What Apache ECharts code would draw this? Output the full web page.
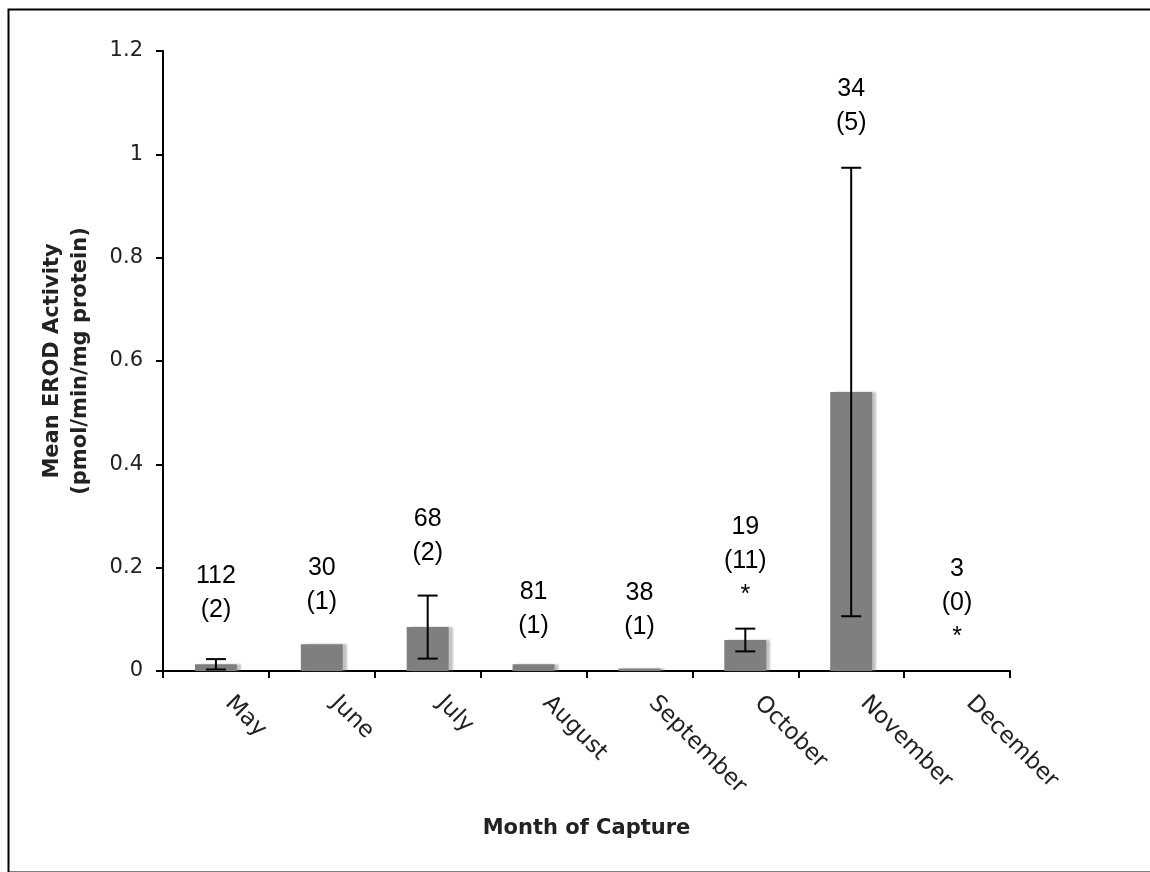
<!DOCTYPE html>
<html><head><meta charset="utf-8">
<script src="https://cdn.jsdelivr.net/npm/echarts@6/dist/echarts.min.js"></script>
<style>html,body{margin:0;padding:0;background:#fff}#c{width:1150px;height:872px}</style>
</head><body><div id="c"></div>
<script>
const months = ['May', 'June', 'July', 'August', 'September', 'October', 'November', 'December'];
const meanErod = [0.013, 0.052, 0.085, 0.013, 0.005, 0.060, 0.540, 0];
const stdErr = [0.010, null, 0.061, null, null, 0.022, 0.434, null];
const sampleSize = ['112', '30', '68', '81', '38', '19', '34', '3'];
const detected = ['(2)', '(1)', '(2)', '(1)', '(1)', '(11)', '(5)', '(0)'];
const significant = [false, false, false, false, false, true, false, true];
const annotationY = [0.151, 0.166, 0.261, 0.119, 0.118, 0.213, 1.094, 0.132];
const yAxisTitle = 'Mean EROD Activity\n(pmol/min/mg protein)';
const xAxisTitle = 'Month of Capture';

const errData = [];
months.forEach((m, i) => { if (stdErr[i] != null) errData.push([i, meanErod[i], stdErr[i]]); });
const annData = months.map((m, i) => [i, annotationY[i]]);

const chart = echarts.init(document.getElementById('c'), null, { renderer: 'canvas' });
chart.setOption({
  backgroundColor: '#fff',
  animation: false,
  graphic: [{
    type: 'rect', left: 6, top: 7, z: 100,
    shape: { x: 0, y: 0, width: 1150, height: 863 },
    style: { fill: 'none', stroke: '#000', lineWidth: 2 }
  }],
  grid: { left: 163, right: 140, top: 51, bottom: 201 },
  xAxis: {
    type: 'category', data: months, boundaryGap: true,
    axisLine: { show: true, lineStyle: { color: '#000', width: 2 } },
    axisTick: { show: true, length: 7, lineStyle: { color: '#000', width: 2 } },
    axisLabel: { interval: 0, rotate: -45, margin: 16, padding: [0, 0, 0, 18],
      fontFamily: 'DejaVu Sans', fontSize: 23, color: '#222' },
    splitLine: { show: false },
    name: xAxisTitle, nameLocation: 'middle', nameGap: 147,
    nameTextStyle: { fontFamily: 'DejaVu Sans', fontWeight: 'bold', fontSize: 21, color: '#222' }
  },
  yAxis: {
    type: 'value', min: 0, max: 1.2, interval: 0.2,
    axisLine: { show: true, lineStyle: { color: '#000', width: 2 } },
    axisTick: { show: true, length: 7, lineStyle: { color: '#000', width: 2 } },
    axisLabel: { margin: 20, fontFamily: 'DejaVu Sans', fontSize: 21, color: '#222' },
    splitLine: { show: false },
    name: yAxisTitle, nameLocation: 'middle', nameGap: 68, nameRotate: 90,
    nameTextStyle: { fontFamily: 'DejaVu Sans', fontWeight: 'bold', fontSize: 21, color: '#222', lineHeight: 28 }
  },
  series: [
    {
      type: 'bar', data: meanErod, barWidth: 42,
      itemStyle: { color: '#7f7f7f', shadowColor: 'rgba(120,120,120,0.45)', shadowBlur: 2, shadowOffsetX: 4 }
    },
    {
      type: 'custom', data: errData, z: 5,
      renderItem: function (params, api) {
        const x = api.value(0), m = api.value(1), e = api.value(2);
        const hi = api.coord([x, m + e]);
        const lo = api.coord([x, m - e]);
        const hw = 10;
        const st = { stroke: '#000', lineWidth: 2 };
        return { type: 'group', children: [
          { type: 'line', shape: { x1: hi[0], y1: hi[1], x2: lo[0], y2: lo[1] }, style: st },
          { type: 'line', shape: { x1: hi[0] - hw, y1: hi[1], x2: hi[0] + hw, y2: hi[1] }, style: st },
          { type: 'line', shape: { x1: lo[0] - hw, y1: lo[1], x2: lo[0] + hw, y2: lo[1] }, style: st }
        ] };
      }
    },
    {
      type: 'scatter', data: annData, symbolSize: 2, z: 6,
      itemStyle: { color: 'rgba(0,0,0,0)', opacity: 1 },
      labelLayout: { hideOverlap: false },
      label: {
        show: true, position: 'inside', fontFamily: 'Liberation Sans', fontSize: 25, lineHeight: 34,
        color: '#000', opacity: 1, textBorderWidth: 0,
        formatter: function (p) {
          const i = p.dataIndex;
          return sampleSize[i] + '\n' + detected[i] + (significant[i] ? '\n*' : '');
        }
      }
    }
  ]
});
</script></body></html>
